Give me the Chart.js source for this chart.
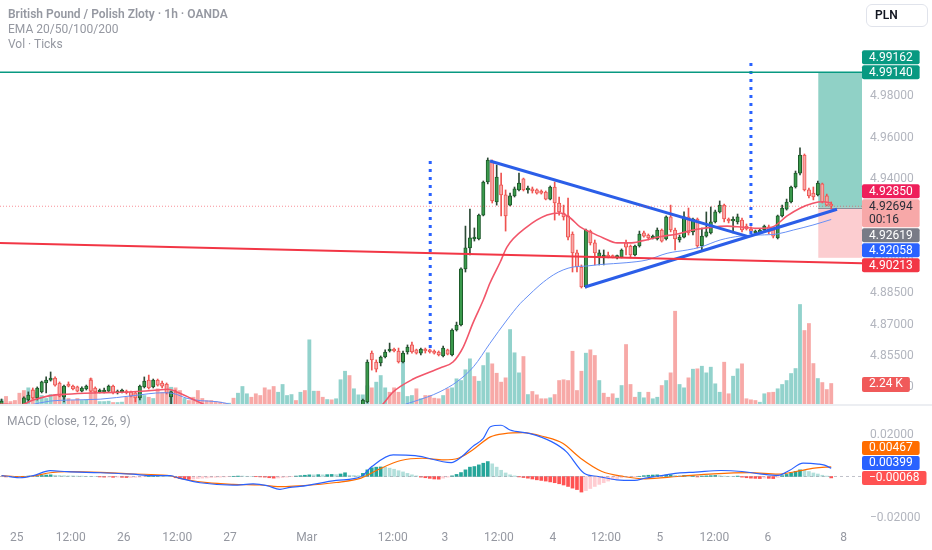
<!DOCTYPE html>
<html>
<head>
<meta charset="utf-8">
<script src="https://cdn.jsdelivr.net/npm/chart.js@4.4.1/dist/chart.umd.min.js"></script>
<style>
html, body { margin: 0; padding: 0; background: #fff; width: 932px; height: 550px; overflow: hidden; font-family: Roboto, "Noto Sans", sans-serif; }
#wrap { position: relative; width: 932px; height: 550px; }
canvas { position: absolute; left: 0; }
#c1 { top: 0; }
#c2 { top: 405px; }
.sep { position: absolute; left: 0; top: 404px; width: 932px; height: 2px; background: #eceef2; }
.legend { position: absolute; left: 8px; top: 7px; color: #9598a1; font-size: 12px; line-height: 15px; }
.legend b { font-weight: 600; }
#macdTitle { position: absolute; left: 7px; top: 414px; color: #9598a1; font-size: 12px; line-height: 14px; }
#pln { position: absolute; left: 866px; top: 4px; width: 62px; height: 23px; border: 1px solid #e0e3eb; border-radius: 6px;
       box-sizing: border-box; font-size: 12px; font-weight: 600; color: #131722; line-height: 21px; padding-left: 8px; }
</style>
</head>
<body>
<div id="wrap">
  <canvas id="c1" width="932" height="405"></canvas>
  <canvas id="c2" width="932" height="145"></canvas>
  <div class="sep"></div>
  <div class="legend">
    <div><b>British Pound / Polish Zloty · 1h · OANDA</b></div>
    <div>EMA 20/50/100/200</div>
    <div>Vol · Ticks</div>
  </div>
  <div id="macdTitle">MACD (close, 12, 26, 9)</div>
  <div id="pln">PLN</div>
</div>
<script>
// hourly bars, index 0 = first bar on screen; null = candle below the visible price range
const open = [
  4.8313,null,null,null,null,4.8313,4.8337,4.8385,4.8347,4.8376,
  4.8419,4.8433,4.8443,4.8419,4.8352,4.8414,4.8404,4.8400,4.8380,4.8390,
  4.8433,4.8395,4.8376,4.8376,4.8380,4.8404,4.8371,4.8376,4.8380,4.8376,
  4.8371,4.8347,4.8400,4.8433,4.8400,4.8433,4.8419,4.8414,4.8352,4.8376,
  null,null,null,null,null,null,null,null,null,null,
  null,null,null,null,null,null,null,null,null,null,
  null,null,null,null,null,null,null,null,null,null,
  null,null,null,null,null,null,null,null,null,null,
  null,4.8303,4.8328,4.8563,4.8520,4.8515,4.8544,4.8573,4.8582,4.8573,
  4.8520,4.8568,4.8602,4.8578,4.8563,4.8582,4.8578,4.8573,4.8568,4.8549,
  4.8578,4.8554,4.8674,4.8698,4.8968,4.9069,4.9112,4.9112,4.9227,4.9386,
  4.9482,4.9290,4.9372,4.9324,4.9275,4.9319,4.9348,4.9401,4.9348,4.9353,
  4.9348,4.9343,4.9338,4.9304,4.9362,4.9285,4.9237,4.9223,4.9136,4.9045,
  4.8977,4.8881,4.9150,4.9093,4.9025,4.9025,4.9035,4.9030,4.9025,4.9025,
  4.9093,4.9078,4.9035,4.9078,4.9141,4.9131,4.9117,4.9112,4.9155,4.9112,
  4.9218,4.9155,4.9107,4.9121,4.9218,4.9146,4.9208,4.9078,4.9126,4.9141,
  4.9194,4.9242,4.9275,4.9208,4.9199,4.9194,4.9203,4.9174,4.9160,4.9141,
  4.9141,4.9155,4.9170,4.9155,4.9117,4.9223,4.9256,4.9290,4.9362,4.9429,
  4.9516,4.9348,4.9333,4.9324,4.9377,4.9319,4.9280
];
const high = [
  4.8342,null,null,null,null,4.8352,4.8376,4.8395,4.8400,4.8428,
  4.8448,4.8472,4.8448,4.8424,4.8409,4.8424,4.8409,4.8404,4.8400,4.8409,
  4.8443,4.8400,4.8390,4.8395,4.8409,4.8409,4.8385,4.8390,4.8385,4.8380,
  4.8376,4.8409,4.8448,4.8457,4.8438,4.8438,4.8428,4.8419,4.8380,4.8385,
  null,null,null,null,null,null,null,null,null,null,
  null,null,null,null,null,null,null,null,null,null,
  null,null,null,null,null,null,null,null,null,null,
  null,null,null,null,null,null,null,null,null,null,
  null,4.8342,4.8530,4.8573,4.8530,4.8549,4.8578,4.8611,4.8587,4.8587,
  4.8573,4.8602,4.8616,4.8582,4.8587,4.8587,4.8582,4.8578,4.8573,4.8597,
  4.8582,4.8679,4.8712,4.8973,4.9174,4.9256,4.9165,4.9232,4.9391,4.9502,
  4.9492,4.9468,4.9429,4.9348,4.9333,4.9362,4.9429,4.9405,4.9367,4.9362,
  4.9353,4.9348,4.9343,4.9367,4.9386,4.9314,4.9275,4.9309,4.9146,4.9059,
  4.8987,4.9160,4.9155,4.9107,4.9059,4.9059,4.9049,4.9035,4.9035,4.9064,
  4.9107,4.9083,4.9083,4.9150,4.9150,4.9136,4.9131,4.9165,4.9160,4.9223,
  4.9275,4.9165,4.9131,4.9242,4.9261,4.9213,4.9213,4.9165,4.9242,4.9266,
  4.9251,4.9295,4.9280,4.9213,4.9218,4.9232,4.9213,4.9184,4.9170,4.9155,
  4.9160,4.9179,4.9179,4.9165,4.9227,4.9275,4.9304,4.9367,4.9439,4.9550,
  4.9521,4.9357,4.9362,4.9391,4.9381,4.9328,4.9290
];
const low = [
  4.8308,null,null,null,null,4.8303,4.8328,4.8342,4.8337,4.8371,
  4.8371,4.8428,4.8404,4.8352,4.8328,4.8400,4.8385,4.8376,4.8376,4.8385,
  4.8376,4.8371,4.8371,4.8371,4.8376,4.8366,4.8366,4.8371,4.8366,4.8352,
  4.8328,4.8337,4.8395,4.8390,4.8395,4.8404,4.8395,4.8366,4.8308,4.8279,
  null,null,null,null,null,null,null,null,null,null,
  null,null,null,null,null,null,null,null,null,null,
  null,null,null,null,null,null,null,null,null,null,
  null,null,null,null,null,null,null,null,null,null,
  null,4.8298,4.8323,4.8481,4.8472,4.8501,4.8539,4.8568,4.8568,4.8515,
  4.8515,4.8558,4.8563,4.8558,4.8554,4.8563,4.8563,4.8558,4.8549,4.8544,
  4.8554,4.8549,4.8669,4.8693,4.8953,4.9035,4.9102,4.9107,4.9223,4.9377,
  4.9285,4.9275,4.9223,4.9150,4.9271,4.9314,4.9343,4.9343,4.9333,4.9333,
  4.9328,4.9328,4.9300,4.9300,4.9203,4.9227,4.9203,4.9107,4.8953,4.8953,
  4.8876,4.8876,4.9083,4.8987,4.8987,4.8987,4.9021,4.9021,4.9016,4.9021,
  4.9035,4.9021,4.9030,4.9073,4.9121,4.9107,4.9112,4.9107,4.9097,4.9107,
  4.9146,4.9059,4.9097,4.9117,4.9131,4.9131,4.9069,4.9059,4.9121,4.9136,
  4.9189,4.9237,4.9194,4.9189,4.9141,4.9184,4.9146,4.9155,4.9146,4.9136,
  4.9136,4.9150,4.9136,4.9117,4.9112,4.9218,4.9251,4.9285,4.9357,4.9420,
  4.9343,4.9309,4.9300,4.9319,4.9285,4.9271,4.9256
];
const close = [
  4.8332,null,null,null,null,4.8347,4.8361,4.8347,4.8395,4.8424,
  4.8433,4.8443,4.8409,4.8356,4.8404,4.8404,4.8390,4.8380,4.8395,4.8404,
  4.8380,4.8376,4.8385,4.8385,4.8404,4.8371,4.8380,4.8385,4.8371,4.8356,
  4.8347,4.8404,4.8428,4.8395,4.8433,4.8409,4.8404,4.8371,4.8376,4.8289,
  null,null,null,null,null,null,null,null,null,null,
  null,null,null,null,null,null,null,null,null,null,
  null,null,null,null,null,null,null,null,null,null,
  null,null,null,null,null,null,null,null,null,null,
  null,4.8337,4.8520,4.8530,4.8486,4.8544,4.8568,4.8582,4.8573,4.8520,
  4.8563,4.8592,4.8568,4.8563,4.8582,4.8573,4.8568,4.8563,4.8554,4.8587,
  4.8558,4.8674,4.8698,4.8968,4.9069,4.9117,4.9121,4.9227,4.9386,4.9492,
  4.9295,4.9410,4.9324,4.9223,4.9319,4.9353,4.9381,4.9348,4.9357,4.9343,
  4.9333,4.9333,4.9304,4.9362,4.9285,4.9242,4.9218,4.9121,4.9045,4.8977,
  4.8881,4.9155,4.9093,4.9045,4.9045,4.9035,4.9025,4.9025,4.9030,4.9059,
  4.9073,4.9035,4.9078,4.9136,4.9126,4.9117,4.9126,4.9155,4.9102,4.9218,
  4.9155,4.9112,4.9121,4.9218,4.9141,4.9208,4.9078,4.9126,4.9146,4.9194,
  4.9242,4.9275,4.9208,4.9199,4.9203,4.9218,4.9155,4.9160,4.9150,4.9150,
  4.9155,4.9174,4.9146,4.9126,4.9223,4.9261,4.9290,4.9362,4.9429,4.9516,
  4.9348,4.9319,4.9314,4.9381,4.9290,4.9275,4.92694
];
// volume in thousands of ticks, 1 = up bar colour
const volume = [
  0.57,0.89,0.36,0.47,1.23,1.51,1.79,1.58,1.33,0.99,
  0.68,1.09,1.09,1.85,0.99,0.68,0.47,0.68,0.47,0.57,
  2.76,1.51,0.36,0.36,0.40,0.26,0.26,0.30,0.81,0.99,
  1.20,1.33,0.99,0.81,0.68,1.69,1.33,2.14,1.85,1.79,
  1.51,0.68,0.47,0.81,1.51,0.68,0.47,0.47,0.36,0.30,
  0.19,0.19,0.71,1.23,1.93,1.17,0.81,1.17,0.99,1.79,
  1.58,1.93,1.33,2.14,0.99,1.09,0.47,1.33,1.51,6.79,
  1.44,1.44,0.81,0.57,0.54,0.65,2.63,3.52,3.07,1.69,
  1.06,1.06,2.00,1.79,2.38,3.07,1.79,1.33,1.79,1.33,
  4.56,0.89,0.99,1.69,0.65,0.99,0.99,0.71,0.65,0.99,
  1.69,1.79,2.73,2.55,3.67,4.81,2.97,2.48,4.11,5.44,
  4.29,3.31,2.38,2.83,7.86,5.44,3.35,5.05,1.09,1.41,
  1.06,0.65,0.65,0.75,1.09,2.55,2.63,2.55,5.60,1.51,
  3.52,5.40,5.75,5.16,2.55,1.23,0.81,1.17,0.71,2.03,
  6.30,2.14,0.81,1.33,0.75,1.33,0.65,0.81,2.03,2.55,
  3.35,9.77,2.14,1.79,2.83,3.73,3.77,4.04,3.35,3.94,
  2.21,1.33,4.46,1.17,3.00,3.77,4.29,0.65,0.54,0.47,
  0.29,1.17,1.30,1.33,1.69,2.14,2.55,3.28,3.80,10.47,
  7.76,8.49,4.32,2.76,2.34,1.61,2.24
];
const volUp = [
  1,0,0,0,0,0,1,0,1,1, 1,1,0,0,1,0,0,0,1,1, 0,0,1,1,1,0,1,1,0,0, 0,1,1,0,1,0,0,0,1,0,
  0,1,0,0,0,0,0,0,0,0, 0,1,0,1,1,1,0,0,0,0, 0,0,1,1,1,1,0,1,0,1, 1,0,0,1,0,1,1,1,0,1,
  1,1,1,0,1,1,1,0,0,0, 1,1,1,0,1,0,0,0,0,1, 0,1,1,1,1,1,0,1,1,1, 0,0,0,0,1,1,1,0,1,0,
  0,0,0,1,0,0,0,0,0,0, 0,1,0,0,1,0,0,0,1,1, 0,0,0,1,1,0,1,1,0,1, 0,0,1,1,0,1,0,1,1,1,
  1,1,0,0,1,1,0,0,0,0, 1,1,0,0,1,1,1,1,1,1, 0,0,0,1,0,0,0
];
// EMA lines: [bar index, price]; a null price breaks the line
const ema20Pts = [
  [-0.3,4.8318],[4.1,4.8313],[7.1,4.8337],[10.9,4.8358],[14.6,4.8365],[22.1,4.8372],[29.5,4.8377],
  [34.9,4.8385],[37.3,4.8389],[39.3,4.8376],[42.3,4.8347],[45.6,4.8313],[47.9,4.8289],[60,null],
  [83.1,4.8279],[85.1,4.8308],[87.8,4.8376],[92.3,4.8438],[98.3,4.8491],[101.2,4.8520],[103.5,4.8592],
  [105.7,4.8708],[108,4.8818],[109.5,4.8900],[111.8,4.9001],[113.3,4.9073],[117.8,4.9170],[122.3,4.9227],
  [125.2,4.9237],[127.5,4.9213],[129.7,4.9170],[131.9,4.9146],[134.9,4.9117],[138,4.9093],[140.9,4.9093],
  [143.8,4.9104],[147.6,4.9123],[151.5,4.9136],[155,4.9155],[158.9,4.9168],[162.7,4.9174],[166.3,4.9168],
  [170,4.9163],[173,4.9171],[176.1,4.9223],[179,4.9260],[181.9,4.9284],[184.2,4.9291],[186,4.9285]
];
const ema50Pts = [
  [6.4,4.8313],[10.9,4.8332],[15.4,4.8337],[22.1,4.8341],[29.5,4.8358],[36.2,4.8372],[38.4,4.8369],
  [41.6,4.8345],[44.5,4.8334],[48.3,4.8329],[51.9,4.8313],[54.6,4.8294],[70,null],
  [87.1,4.8289],[89.3,4.8308],[95.3,4.8350],[98.3,4.8377],[102.1,4.8425],[105.8,4.8497],[109.5,4.8610],
  [113.3,4.8722],[116.3,4.8802],[117.8,4.8833],[120.7,4.8891],[123.7,4.8939],[125.9,4.8963],[128.1,4.8977],
  [131.3,4.8982],[134.2,4.8989],[140.2,4.8998],[144.7,4.9011],[149.2,4.9043],[153.7,4.9059],[156.6,4.9072],
  [161.1,4.9107],[165.6,4.9126],[170.1,4.9131],[173.9,4.9136],[177.5,4.9155],[181.9,4.9179],[186,4.92058]
];
// MACD (12, 26, 9)
const macdPts = [
  [0,0.0004],[1.9,-0.0001],[4.1,-0.0006],[7.1,0.0004],[10.9,0.0028],[14.7,0.0023],[22.1,0.0018],[29.5,0.0011],
  [33.3,0.0004],[37.8,0.0004],[40,-0.0009],[44.5,-0.0030],[51.9,-0.0042],[56.4,-0.0036],[59.5,-0.0044],
  [62.4,-0.0062],[64.7,-0.0052],[66.9,-0.0048],[75,-0.0019],[80.6,0.0],[83,0.0048],[87.8,0.0104],[92.7,0.0101],
  [100.8,0.0067],[103.2,0.0096],[105.6,0.0144],[108,0.0184],[109.6,0.0240],[112,0.0247],[114,0.0224],
  [118.5,0.0207],[123.3,0.0168],[126.6,0.0120],[130.6,0.0016],[133.8,0.0],[137.9,-0.0016],[141.9,-0.0019],
  [144.3,-0.0008],[147.5,0.0003],[151.6,0.0016],[155.6,0.0021],[161.3,0.0029],[166,0.0024],[170,0.0013],
  [174.1,0.0005],[176.6,0.0029],[179.7,0.0064],[183.1,0.0060],[184.5,0.0055],[186,0.00399]
];
const signalPts = [
  [0,0.0004],[4.1,-0.0001],[7.1,0.0002],[10.9,0.0018],[14.6,0.0023],[22.1,0.0020],[29.5,0.0012],[37.1,0.0006],
  [40.7,-0.0012],[46.1,-0.0030],[51.9,-0.0038],[58,-0.0041],[63.1,-0.0049],[66.9,-0.0045],[75,-0.0029],
  [80.6,-0.0008],[84.6,0.0035],[89.5,0.0077],[94.3,0.0088],[99.1,0.0080],[102.4,0.0088],[105.6,0.0128],
  [109.6,0.0191],[112.8,0.0207],[116.9,0.0211],[121.7,0.0191],[125.8,0.0160],[129.8,0.0088],[134.6,0.0024],
  [139.5,0.0],[144.3,-0.0011],[151.6,0.0],[159.6,0.0013],[167.7,0.0019],[174.1,0.0011],[178.1,0.0024],
  [182.2,0.0040],[186,0.00467]
];
// histogram per bar, in units of 0.0001
const histE4 = [
  -1,-2,-2,-1,0,1,2,2,3,
  5,7,8,6,
  5,4,3,3,2,2,1,1,0,
  -2,-3,-3,-4,-3,-4,-5,-5,-4,-3,
  -1,1,2,3,2,1,0,
  -6,-10,-12,-13,-12,
  -10,-8,-7,-5,-4,-3,-2,
  -1,1,2,2,1,0,-1,-2,-3,
  -6,-8,-7,-5,-3,-1,2,
  4,6,8,8,9,8,9,10,9,12,18,
  6,5,4,
  15,32,42,45,46,44,
  40,35,28,22,15,8,3,
  -3,-6,-9,-12,-13,-8,
  -3,3,10,
  19,32,45,48,56,64,72,
  61,45,30,17,8,3,-2,
  -5,-8,-12,-16,-19,-22,-26,-30,-35,-41,-48,-56,-63,-75,
  -68,-58,-48,-38,-30,-22,-15,-10,-6,
  -3,-2,-1,1,
  4,6,7,8,6,7,8,5,4,5,3,4,
  -2,2,3,4,5,4,2,1,1,2,
  -3,-6,-8,-9,-10,-8,-9,-10,-4,
  4,10,18,25,32,30,
  24,17,12,6,2,
  -6.8
];
// drawings
const upperTrend = [[109.5,4.9487],[167.4,4.9123]];
const lowerTrend = [[130.8,4.8881],[187.3,4.9255]];
const redLevel = [[-0.35,4.9093],[192.9,4.8995]];
const tealLevel = 4.9914;
const vLine1 = [[96.1,4.9487],[96.1,4.8578]];
const vLine2 = [[168,4.9959],[168,4.9131]];
const posStart = 183.1, posTarget = 4.9914, posEntry = 4.92619, posStop = 4.90213;
// right scale tags
const tagPrices = [4.99162, 4.99140, 4.92850, 4.92619, 4.92058, 4.90213];
const tagColors = ['#089981', '#089981', '#ee1f5b', '#787b86', '#2962ff', '#f23645'];
const countdown = '00:16';
// axes
const priceTicks = [4.98, 4.96, 4.94, 4.92, 4.90, 4.885, 4.87, 4.855, 4.84];
const macdTicks = [0.02, -0.02];
const timeTicks = [3.4, 15.5, 27.4, 39.4, 51.2, 68.4, 87.7, 99.4, 111.5, 123.6, 135.5, 147.6, 159.8, 171.8, 188.8];
const timeLabels = ['25', '12:00', '26', '12:00', '27', 'Mar', '12:00', '3', '12:00', '4', '12:00', '5', '12:00', '6', '8'];

const X_MIN = -0.35, X_MAX = 192.9;
const FONT = 'Roboto';
const AXIS_W = 70;

const xy = pts => pts.map(p => ({ x: p[0], y: p[1] }));
const bars = [...Array(open.length).keys()].filter(i => open[i] !== null);
const up = i => close[i] >= open[i];
const lastClose = close[close.length - 1];

function seg(pts, color, width, dash, axis) {
  return {
    type: 'line', data: xy(pts), borderColor: color, borderWidth: width, borderDash: dash || [],
    pointRadius: 0, fill: false, tension: 0, order: 0, yAxisID: axis || 'y'
  };
}
function curve(pts, color, width, axis) {
  return {
    type: 'line', data: xy(pts), borderColor: color, borderWidth: width, pointRadius: 0, fill: false,
    cubicInterpolationMode: 'monotone', spanGaps: false, order: 1, yAxisID: axis || 'y'
  };
}

function drawTag(ctx, x0, yc, h, bg, fg, lines) {
  ctx.font = '12px ' + FONT;
  const w = Math.max(...lines.map(t => ctx.measureText(t).width)) + 14;
  ctx.fillStyle = bg;
  ctx.beginPath();
  ctx.roundRect(x0, yc - h / 2, w, h, 2);
  ctx.fill();
  ctx.fillStyle = fg;
  ctx.textAlign = 'left';
  ctx.textBaseline = 'middle';
  lines.forEach((t, k) => ctx.fillText(t, x0 + 7, yc - h / 2 + 7.5 + k * 13));
}

// push tags apart (ordered by their price), keeping the anchor tag where it is
function spread(tags) {
  tags.sort((a, b) => a.py - b.py);
  const a = tags.findIndex(t => t.anchor);
  for (let k = a + 1; k < tags.length; k++) {
    const top = tags[k - 1].y + tags[k - 1].h / 2 + 1;
    if (tags[k].y - tags[k].h / 2 < top) tags[k].y = top + tags[k].h / 2;
  }
  for (let k = a - 1; k >= 0; k--) {
    const bottom = tags[k + 1].y - tags[k + 1].h / 2 - 1;
    if (tags[k].y + tags[k].h / 2 > bottom) tags[k].y = bottom - tags[k].h / 2;
  }
  return tags;
}
const fmt = v => (v < 0 ? '\u2212' : '') + Math.abs(v).toFixed(5);
const noPad = s => { s.paddingTop = 0; s.paddingBottom = 0; s.paddingLeft = 0; s.paddingRight = 0; };

const pricePlugin = {
  id: 'pricePlugin',
  beforeDatasetsDraw(chart) {
    const { ctx, chartArea: ca, scales } = chart;
    const x0 = scales.x.getPixelForValue(posStart);
    const yT = scales.y.getPixelForValue(posTarget);
    const yE = scales.y.getPixelForValue(posEntry);
    const yS = scales.y.getPixelForValue(posStop);
    ctx.save();
    ctx.fillStyle = 'rgba(8,153,129,0.45)';
    ctx.fillRect(x0, yT, ca.right - x0, yE - yT);
    ctx.fillStyle = 'rgba(242,54,69,0.25)';
    ctx.fillRect(x0, yE, ca.right - x0, yS - yE);
    ctx.strokeStyle = '#8a8e99';
    ctx.lineWidth = 1;
    ctx.beginPath();
    ctx.moveTo(x0, Math.round(yE) + 0.5);
    ctx.lineTo(ca.right, Math.round(yE) + 0.5);
    ctx.stroke();
    ctx.restore();
  },
  afterDraw(chart) {
    const { ctx, chartArea: ca, scales } = chart;
    const tags = tagPrices.map((p, k) => {
      const py = scales.y.getPixelForValue(p);
      return { py, y: py, h: 14, bg: tagColors[k], fg: '#fff', lines: [p.toFixed(5)] };
    });
    const lp = scales.y.getPixelForValue(lastClose);
    tags.push({ py: lp, y: lp + 7, h: 28, bg: '#f7a8a8', fg: '#2a2e39', lines: [lastClose.toFixed(5), countdown], anchor: true });
    ctx.save();
    spread(tags).forEach(t => drawTag(ctx, ca.right, t.y, t.h, t.bg, t.fg, t.lines));
    const v = volume[volume.length - 1];
    drawTag(ctx, ca.right, scales.yv.getPixelForValue(v) + 1, 15, '#f05a5a', '#fff', [v.toFixed(2) + ' K']);
    ctx.restore();
  }
};

const macdPlugin = {
  id: 'macdPlugin',
  afterDraw(chart) {
    const { ctx, chartArea: ca, scales } = chart;
    const hLast = histE4[histE4.length - 1] / 10000;
    const mLast = macdPts[macdPts.length - 1][1];
    const sLast = signalPts[signalPts.length - 1][1];
    const tags = [sLast, mLast, hLast].map((v, k) => {
      const py = scales.y.getPixelForValue(v);
      return { py, y: py, h: 14, bg: ['#ff6d00', '#2962ff', '#ff5252'][k], lines: [fmt(v)], anchor: k === 2 };
    });
    ctx.save();
    spread(tags).forEach(t => drawTag(ctx, ca.right, t.y, t.h, t.bg, '#fff', t.lines));
    ctx.restore();
  }
};

const xScale = (show) => ({
  type: 'linear', min: X_MIN, max: X_MAX, offset: false, display: show,
  grid: { display: false, drawTicks: false }, border: { display: false },
  afterFit: s => { noPad(s); if (show) s.height = 24; },
  afterBuildTicks: s => { s.ticks = timeTicks.map(v => ({ value: v })); },
  ticks: {
    autoSkip: false, maxRotation: 0, padding: 5, color: '#9598a1', font: { family: FONT, size: 12 },
    callback: (v, i) => timeLabels[i]
  }
});

const common = {
  responsive: false, animation: false, events: [],
  layout: { padding: 0 },
  plugins: { legend: { display: false }, tooltip: { enabled: false } }
};

new Chart(document.getElementById('c1'), {
  type: 'bar',
  data: {
    datasets: [
      {
        label: 'Volume', yAxisID: 'yv', order: 6, grouped: false, barThickness: 3.2,
        data: volume.map((v, i) => ({ x: i, y: v })),
        backgroundColor: volUp.map(u => u ? 'rgba(38,166,154,0.5)' : 'rgba(239,83,80,0.5)')
      },
      {
        label: 'Wick', yAxisID: 'y', order: 5, grouped: false, barThickness: 1,
        data: bars.map(i => ({ x: i, y: [low[i], high[i]] })),
        backgroundColor: bars.map(i => up(i) ? '#2d4a36' : '#ef5350')
      },
      {
        label: 'Body', yAxisID: 'y', order: 4, grouped: false, barThickness: 3.4, minBarLength: 1.5,
        borderSkipped: false, borderWidth: 1,
        data: bars.map(i => ({ x: i, y: [open[i], close[i]] })),
        backgroundColor: bars.map(i => up(i) ? '#3a9a4c' : '#f7a9a8'),
        borderColor: bars.map(i => up(i) ? '#1d5a2a' : '#ef5350')
      },
      curve(ema20Pts, '#f2566a', 1.6),
      curve(ema50Pts, '#6790f5', 1),
      seg(redLevel, '#f23645', 2),
      seg([[X_MIN, tealLevel], [X_MAX, tealLevel]], '#089981', 1.5),
      seg([[X_MIN, lastClose], [X_MAX, lastClose]], 'rgba(242,54,69,0.55)', 1, [1, 2]),
      seg(upperTrend, '#2b5ee8', 3),
      seg(lowerTrend, '#2b5ee8', 3),
      seg(vLine1, '#2962ff', 3, [3, 5]),
      seg(vLine2, '#2962ff', 3, [3, 5])
    ]
  },
  options: Object.assign({}, common, {
    scales: {
      x: xScale(false),
      y: {
        type: 'linear', position: 'right', min: 4.8313, max: 5.0262,
        grid: { display: false, drawTicks: false }, border: { display: false },
        afterFit: s => { noPad(s); s.width = AXIS_W; },
        afterBuildTicks: s => { s.ticks = priceTicks.map(v => ({ value: v })); },
        ticks: { padding: 8, color: '#b2b5be', font: { family: FONT, size: 12 }, callback: v => v.toFixed(5) }
      },
      yv: { type: 'linear', display: false, min: 0, max: 42.19, afterFit: noPad }
    }
  }),
  plugins: [pricePlugin]
});

const hist = histE4.map(h => h / 10000);
const histColors = hist.map((h, i) => {
  const prev = i > 0 ? hist[i - 1] : h;
  if (h >= 0) return h > prev ? '#26a69a' : '#b2dfdb';
  return h < prev ? '#ff5252' : '#ffcdd2';
});

new Chart(document.getElementById('c2'), {
  type: 'bar',
  data: {
    datasets: [
      {
        label: 'Histogram', order: 5, grouped: false, barThickness: 3,
        data: hist.map((h, i) => ({ x: i, y: h })), backgroundColor: histColors
      },
      seg([[X_MIN, 0], [X_MAX, 0]], 'rgba(150,154,166,0.6)', 1, [3, 3]),
      curve(macdPts, '#2962ff', 1.2),
      curve(signalPts, '#ff6d00', 1.2)
    ]
  },
  options: Object.assign({}, common, {
    scales: {
      x: xScale(true),
      y: {
        type: 'linear', position: 'right', min: -0.02386, max: 0.03446,
        grid: { display: false, drawTicks: false }, border: { display: false },
        afterFit: s => { noPad(s); s.width = AXIS_W; },
        afterBuildTicks: s => { s.ticks = macdTicks.map(v => ({ value: v })); },
        ticks: { padding: 8, color: '#b2b5be', font: { family: FONT, size: 12 }, callback: v => fmt(v) }
      }
    }
  }),
  plugins: [macdPlugin]
});
</script>
</body>
</html>
